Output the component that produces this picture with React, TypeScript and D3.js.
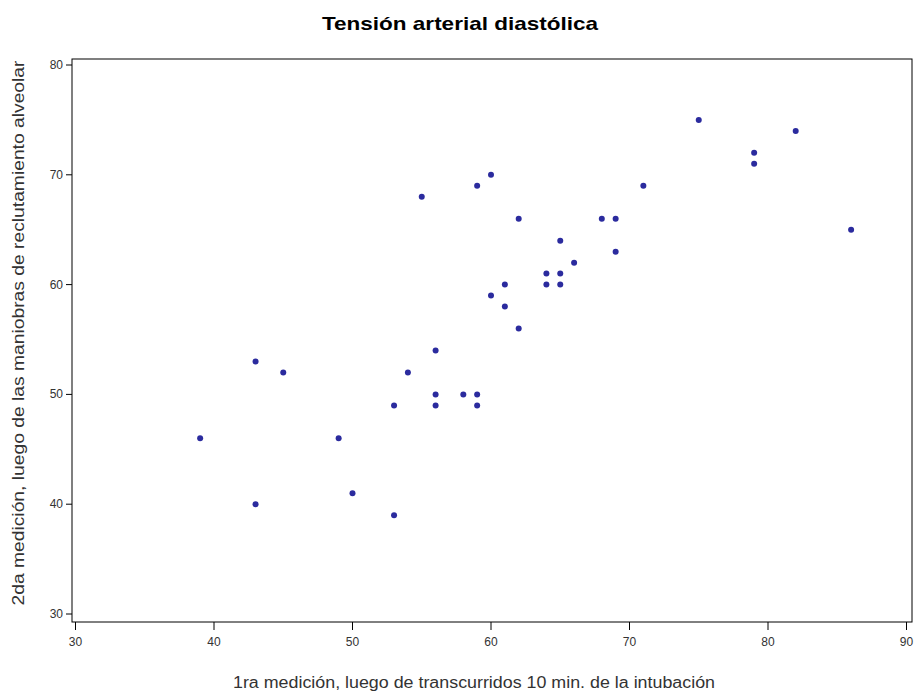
import React from "react";
import * as d3 from "d3";

// primera medición (x) vs segunda medición (y)
const medicion1 = [39, 43, 43, 45, 49, 50, 53, 53, 54, 55, 56, 56, 56, 58, 59, 59, 59, 60, 60, 61, 61, 62, 62, 64, 64, 65, 65, 65, 66, 68, 69, 69, 71, 75, 79, 79, 82, 86];
const medicion2 = [46, 53, 40, 52, 46, 41, 49, 39, 52, 68, 54, 50, 49, 50, 50, 49, 69, 70, 59, 60, 58, 66, 56, 61, 60, 64, 61, 60, 62, 66, 66, 63, 69, 75, 72, 71, 74, 65];
const xTicks = [30, 40, 50, 60, 70, 80, 90];
const yTicks = [30, 40, 50, 60, 70, 80];

const W = 917;
const H = 695;
const frame = { left: 72, right: 912, top: 59, bottom: 622 };

export default function App() {
  const x = d3.scaleLinear().domain([30, 90]).range([75.5, 906.5]);
  const y = d3.scaleLinear().domain([30, 80]).range([614, 65]);
  const font = "Arial, 'Liberation Sans', sans-serif";

  return (
    <svg width={W} height={H} style={{ position: "absolute", left: 0, top: 0, background: "#fff" }}>
      <text x={460} y={30} textAnchor="middle" fontFamily={font} fontWeight="bold" fontSize={19}
        textLength={276} lengthAdjust="spacingAndGlyphs" fill="#000">
        Tensión arterial diastólica
      </text>

      <rect x={frame.left} y={frame.top} width={frame.right - frame.left} height={frame.bottom - frame.top}
        fill="none" stroke="#000" strokeWidth={1} />

      {xTicks.map((t) => (
        <g key={"x" + t}>
          <line x1={x(t)} x2={x(t)} y1={frame.bottom} y2={frame.bottom + 8} stroke="#000" />
          <text x={x(t)} y={frame.bottom + 24} textAnchor="middle" fontFamily={font} fontSize={12} fill="#333">{t}</text>
        </g>
      ))}
      {yTicks.map((t) => (
        <g key={"y" + t}>
          <line x1={frame.left - 6} x2={frame.left} y1={y(t)} y2={y(t)} stroke="#000" />
          <text x={frame.left - 9} y={y(t) + 4} textAnchor="end" fontFamily={font} fontSize={12} fill="#333">{t}</text>
        </g>
      ))}

      {medicion1.map((v, i) => (
        <circle key={i} cx={x(v)} cy={y(medicion2[i])} r={3} fill="#2b2b9e" />
      ))}

      <text x={474} y={688} textAnchor="middle" fontFamily={font} fontSize={16} fill="#333"
        textLength={482} lengthAdjust="spacingAndGlyphs">
        1ra medición, luego de transcurridos 10 min. de la intubación
      </text>
      <text transform={`translate(24, 333) rotate(-90)`} textAnchor="middle" fontFamily={font} fontSize={16} fill="#333"
        textLength={545} lengthAdjust="spacingAndGlyphs">
        2da medición, luego de las maniobras de reclutamiento alveolar
      </text>
    </svg>
  );
}
